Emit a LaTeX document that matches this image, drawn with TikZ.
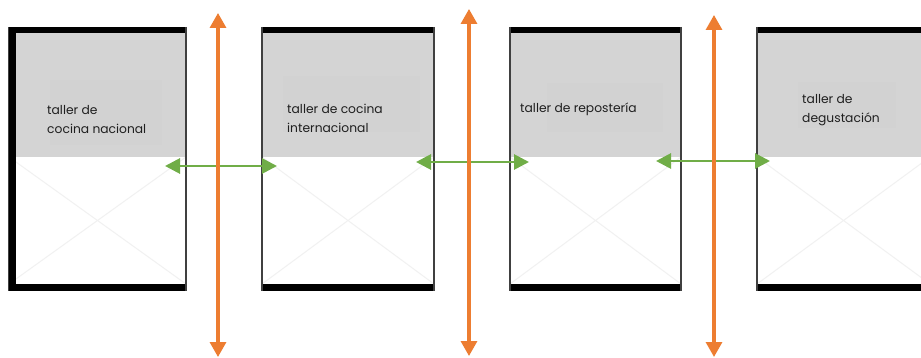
\documentclass[tikz,border=0pt]{standalone}
\usepackage{fontspec}
\setmainfont{Poppins}
\usetikzlibrary{arrows.meta}
\definecolor{panelgray}{HTML}{D4D4D4}
\definecolor{textbg}{HTML}{D2D2D2}
\definecolor{crossgray}{HTML}{F1F1F1}
\definecolor{sidegray}{HTML}{404040}
\definecolor{orangeA}{HTML}{ED7D31}
\definecolor{greenA}{HTML}{70AD47}
\definecolor{txt}{HTML}{1F1F1F}
\tikzset{
  lbl/.style={font=\fontsize{12.3}{19}\selectfont, text=txt, align=left, inner sep=0pt, anchor=base west},
  vflow/.style={draw=orangeA, line width=3.2pt, {Triangle[width=16pt,length=15pt]}-{Triangle[width=16pt,length=15pt]}},
  hflow/.style={draw=greenA, line width=2.8pt, {Triangle[width=15pt,length=15pt]}-{Triangle[width=15pt,length=15pt]}},
}
\newcommand{\panelbox}[2]{%
  \fill[panelgray] (#1,33) rectangle (#2,157);
  \fill[white] (#1,157) rectangle (#2,284);
  \draw[crossgray, line width=1pt] (#1,157) -- (#2,284) (#1,284) -- (#2,157);
  \fill[black] (#1,27) rectangle (#2,33);
  \fill[black] (#1,284) rectangle (#2,291);
  \draw[sidegray, line width=1.5pt] (#1,27) -- (#1,291) (#2,27) -- (#2,291);
}
\begin{document}
\begin{tikzpicture}[x=1pt,y=-1pt]
\useasboundingbox (0,0) rectangle (921,358);
\clip (0,0) rectangle (921,358);
\fill[white] (0,0) rectangle (921,358);
% panels
\panelbox{9}{186}
\fill[black] (9,27) rectangle (16,291);
\panelbox{262}{434}
\panelbox{510}{681}
\panelbox{757}{930}
% text placeholders
\fill[textbg] (50,80) rectangle (162,145);
\fill[textbg] (283,76) rectangle (420,132);
\fill[textbg] (547,83) rectangle (663,132);
\fill[textbg] (798,82) rectangle (896,128);
\node[lbl] (t1) at (47,134) {taller de\\cocina nacional};
\node[lbl] (t2) at (287,133) {taller de cocina\\internacional};
\node[lbl] (t3) at (520,113) {taller de repostería};
\node[lbl] (t4) at (802,123) {taller de\\degustación};
% orange vertical arrows
\coordinate (o1a) at (218,13); \coordinate (o1b) at (218,357);
\coordinate (o2a) at (469,9);  \coordinate (o2b) at (469,356);
\coordinate (o3a) at (714,15); \coordinate (o3b) at (714,357);
% green horizontal arrows
\coordinate (g1a) at (165,166); \coordinate (g1b) at (277,166);
\coordinate (g2a) at (416,162); \coordinate (g2b) at (529,162);
\coordinate (g3a) at (656,161); \coordinate (g3b) at (770,161);
\draw[hflow] (g1a) -- (g1b);
\draw[hflow] (g2a) -- (g2b);
\draw[hflow] (g3a) -- (g3b);
\draw[vflow] (o1a) -- (o1b);
\draw[vflow] (o2a) -- (o2b);
\draw[vflow] (o3a) -- (o3b);
\end{tikzpicture}
\end{document}
